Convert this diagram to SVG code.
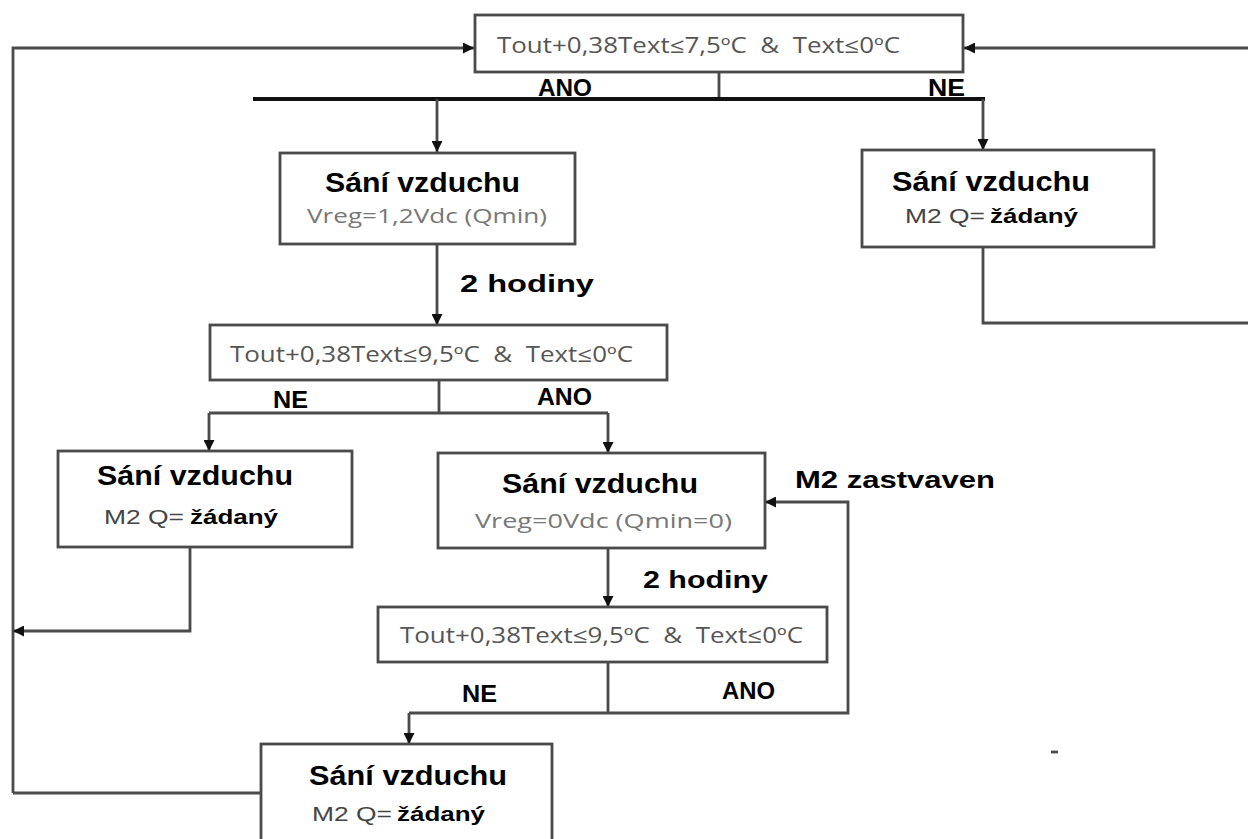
<svg xmlns="http://www.w3.org/2000/svg" width="1248" height="839" viewBox="0 0 1248 839">
<defs>
<marker id="ah" viewBox="0 0 10 10" refX="10" refY="5" markerWidth="11" markerHeight="11" markerUnits="userSpaceOnUse" orient="auto">
<path d="M0,0 L10,5 L0,10 z" fill="#111"/>
</marker>
<style>
.box{fill:#fff;stroke:#4a4a4a;stroke-width:2.8}
.ln{fill:none;stroke:#4a4a4a;stroke-width:2.8}
.thick{fill:none;stroke:#111;stroke-width:4}
.arr{marker-end:url(#ah)}
.cond{font-family:"Open Sans","Liberation Sans",sans-serif;font-size:21px;fill:#555}
.title{font-family:"Liberation Sans",Arial,sans-serif;font-weight:bold;font-size:27px;fill:#000}
.sub{font-family:"Open Sans","Liberation Sans",sans-serif;font-size:20px;fill:#777}
.m2{font-family:"Liberation Sans",Arial,sans-serif;font-size:21px;fill:#444}
.zad{font-family:"Liberation Sans",Arial,sans-serif;font-weight:bold;font-size:21px;fill:#000}
.lbl{font-family:"Liberation Sans",Arial,sans-serif;font-weight:bold;font-size:23px;fill:#000}
</style>
</defs>
<rect width="1248" height="839" fill="#fff"/>

<g id="connectors">
<path class="ln arr" d="M13,793 L13,48 L474,48"/>
<path class="ln" d="M261,793 L13,793"/>
<path class="ln arr" d="M1248,48 L964,48"/>
<path class="ln" d="M719,72 L719,99"/>
<path class="thick" d="M253,99 L985,99"/>
<path class="ln arr" d="M437,99 L437,152"/>
<path class="ln arr" d="M983,99 L983,150"/>
<path class="ln" d="M983,247 L983,323 L1248,323"/>
<path class="ln arr" d="M437,244 L437,325"/>
<path class="ln" d="M439,380 L439,413"/>
<path class="ln" d="M209,413 L608,413"/>
<path class="ln arr" d="M209,413 L209,451"/>
<path class="ln arr" d="M608,413 L608,453"/>
<path class="ln arr" d="M190,547 L190,631 L13,631"/>
<path class="ln arr" d="M608,548 L608,607"/>
<path class="ln" d="M608,662 L608,713"/>
<path class="ln arr" d="M409,713 L848,713 L848,502 L765,502"/>
<path class="ln arr" d="M409,713 L409,744"/>
<path class="ln" d="M1051,752 L1058,752" stroke="#111"/>
</g>

<g id="n1">
<rect class="box" x="475" y="15" width="488" height="57"/>
<text class="cond" x="497" y="53" textLength="403" lengthAdjust="spacingAndGlyphs" xml:space="preserve">Tout+0,38Text≤7,5ºC  &amp;  Text≤0ºC</text>
</g>
<text class="lbl" x="538" y="96" textLength="54" lengthAdjust="spacingAndGlyphs">ANO</text>
<text class="lbl" x="928" y="96" textLength="37" lengthAdjust="spacingAndGlyphs">NE</text>

<g id="n2">
<rect class="box" x="280" y="153" width="295" height="91"/>
<text class="title" x="325" y="192" textLength="195" lengthAdjust="spacingAndGlyphs">Sání vzduchu</text>
<text class="sub" x="307" y="223" textLength="240" lengthAdjust="spacingAndGlyphs">Vreg=1,2Vdc (Qmin)</text>
</g>

<g id="n3">
<rect class="box" x="862" y="150" width="292" height="97"/>
<text class="title" x="892" y="191" textLength="198" lengthAdjust="spacingAndGlyphs">Sání vzduchu</text>
<text class="m2" x="905" y="223" textLength="80" lengthAdjust="spacingAndGlyphs">M2 Q=</text>
<text class="zad" x="990" y="223" textLength="88" lengthAdjust="spacingAndGlyphs">žádaný</text>
</g>

<text class="lbl" x="460" y="292" textLength="134" lengthAdjust="spacingAndGlyphs">2 hodiny</text>

<g id="n4">
<rect class="box" x="210" y="325" width="457" height="55"/>
<text class="cond" x="230" y="362" textLength="403" lengthAdjust="spacingAndGlyphs" xml:space="preserve">Tout+0,38Text≤9,5ºC  &amp;  Text≤0ºC</text>
</g>
<text class="lbl" x="273" y="408" textLength="35" lengthAdjust="spacingAndGlyphs">NE</text>
<text class="lbl" x="537" y="405" textLength="55" lengthAdjust="spacingAndGlyphs">ANO</text>

<g id="n5">
<rect class="box" x="58" y="451" width="294" height="96"/>
<text class="title" x="97" y="485" textLength="196" lengthAdjust="spacingAndGlyphs">Sání vzduchu</text>
<text class="m2" x="104" y="524" textLength="80" lengthAdjust="spacingAndGlyphs">M2 Q=</text>
<text class="zad" x="190" y="524" textLength="88" lengthAdjust="spacingAndGlyphs">žádaný</text>
</g>

<g id="n6">
<rect class="box" x="438" y="453" width="327" height="95"/>
<text class="title" x="502" y="493" textLength="196" lengthAdjust="spacingAndGlyphs">Sání vzduchu</text>
<text class="sub" x="475" y="528" textLength="257" lengthAdjust="spacingAndGlyphs">Vreg=0Vdc (Qmin=0)</text>
</g>
<text class="lbl" x="795" y="488" textLength="200" lengthAdjust="spacingAndGlyphs">M2 zastvaven</text>
<text class="lbl" x="643" y="588" textLength="125" lengthAdjust="spacingAndGlyphs">2 hodiny</text>

<g id="n7">
<rect class="box" x="378" y="607" width="449" height="55"/>
<text class="cond" x="400" y="643" textLength="403" lengthAdjust="spacingAndGlyphs" xml:space="preserve">Tout+0,38Text≤9,5ºC  &amp;  Text≤0ºC</text>
</g>
<text class="lbl" x="462" y="702" textLength="35" lengthAdjust="spacingAndGlyphs">NE</text>
<text class="lbl" x="722" y="699" textLength="53" lengthAdjust="spacingAndGlyphs">ANO</text>

<g id="n8">
<rect class="box" x="261" y="744" width="291" height="110"/>
<text class="title" x="309" y="785" textLength="198" lengthAdjust="spacingAndGlyphs">Sání vzduchu</text>
<text class="m2" x="312" y="821" textLength="80" lengthAdjust="spacingAndGlyphs">M2 Q=</text>
<text class="zad" x="397" y="821" textLength="88" lengthAdjust="spacingAndGlyphs">žádaný</text>
</g>
</svg>
